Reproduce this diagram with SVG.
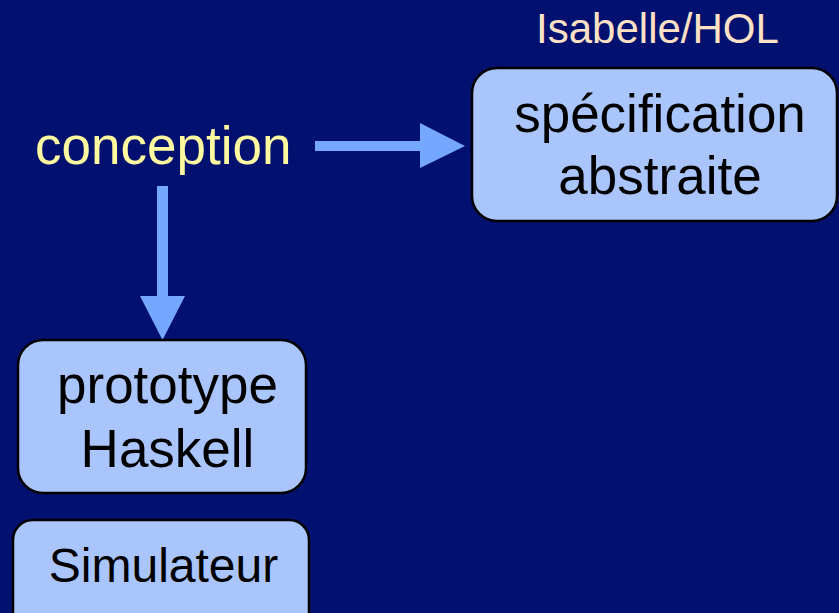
<svg xmlns="http://www.w3.org/2000/svg" width="839" height="613" viewBox="0 0 839 613">
  <style>
    .box { fill: #a9c5fb; stroke: #000; stroke-width: 2.5; }
    .lbl { font-family: "Liberation Sans", Arial, sans-serif; fill: #000; text-anchor: middle; }
    .arrow { fill: #75a7ff; }
  </style>
  <rect width="839" height="613" fill="#021170"/>

  <!-- connectors -->
  <g id="connectors">
    <polygon class="arrow" points="315,141 420,141 420,123 465,146 420,168 420,151 315,151"/>
    <polygon class="arrow" points="157,186 168,186 168,296 185,296 162.5,340 140,296 157,296"/>
  </g>

  <g id="conception">
    <text x="35" y="164" font-family="Liberation Sans, Arial, sans-serif" font-size="53" fill="#fffaa0">conception</text>
  </g>

  <g id="isabelle">
    <text x="657.5" y="43" font-family="Liberation Sans, Arial, sans-serif" font-size="42" fill="#ffe2c6" text-anchor="middle">Isabelle/HOL</text>
  </g>

  <g id="specification">
    <rect class="box" x="472" y="68" width="365" height="153" rx="25"/>
    <text class="lbl" x="660" y="132" font-size="53">spécification</text>
    <text class="lbl" x="660" y="194" font-size="53">abstraite</text>
  </g>

  <g id="prototype">
    <rect class="box" x="18" y="340" width="288" height="153" rx="25"/>
    <text class="lbl" x="167.5" y="403" font-size="53">prototype</text>
    <text class="lbl" x="167.5" y="467" font-size="53">Haskell</text>
  </g>

  <g id="simulateur">
    <rect class="box" x="13" y="520" width="296" height="120" rx="20"/>
    <text class="lbl" x="163.5" y="582" font-size="48">Simulateur</text>
  </g>
</svg>
